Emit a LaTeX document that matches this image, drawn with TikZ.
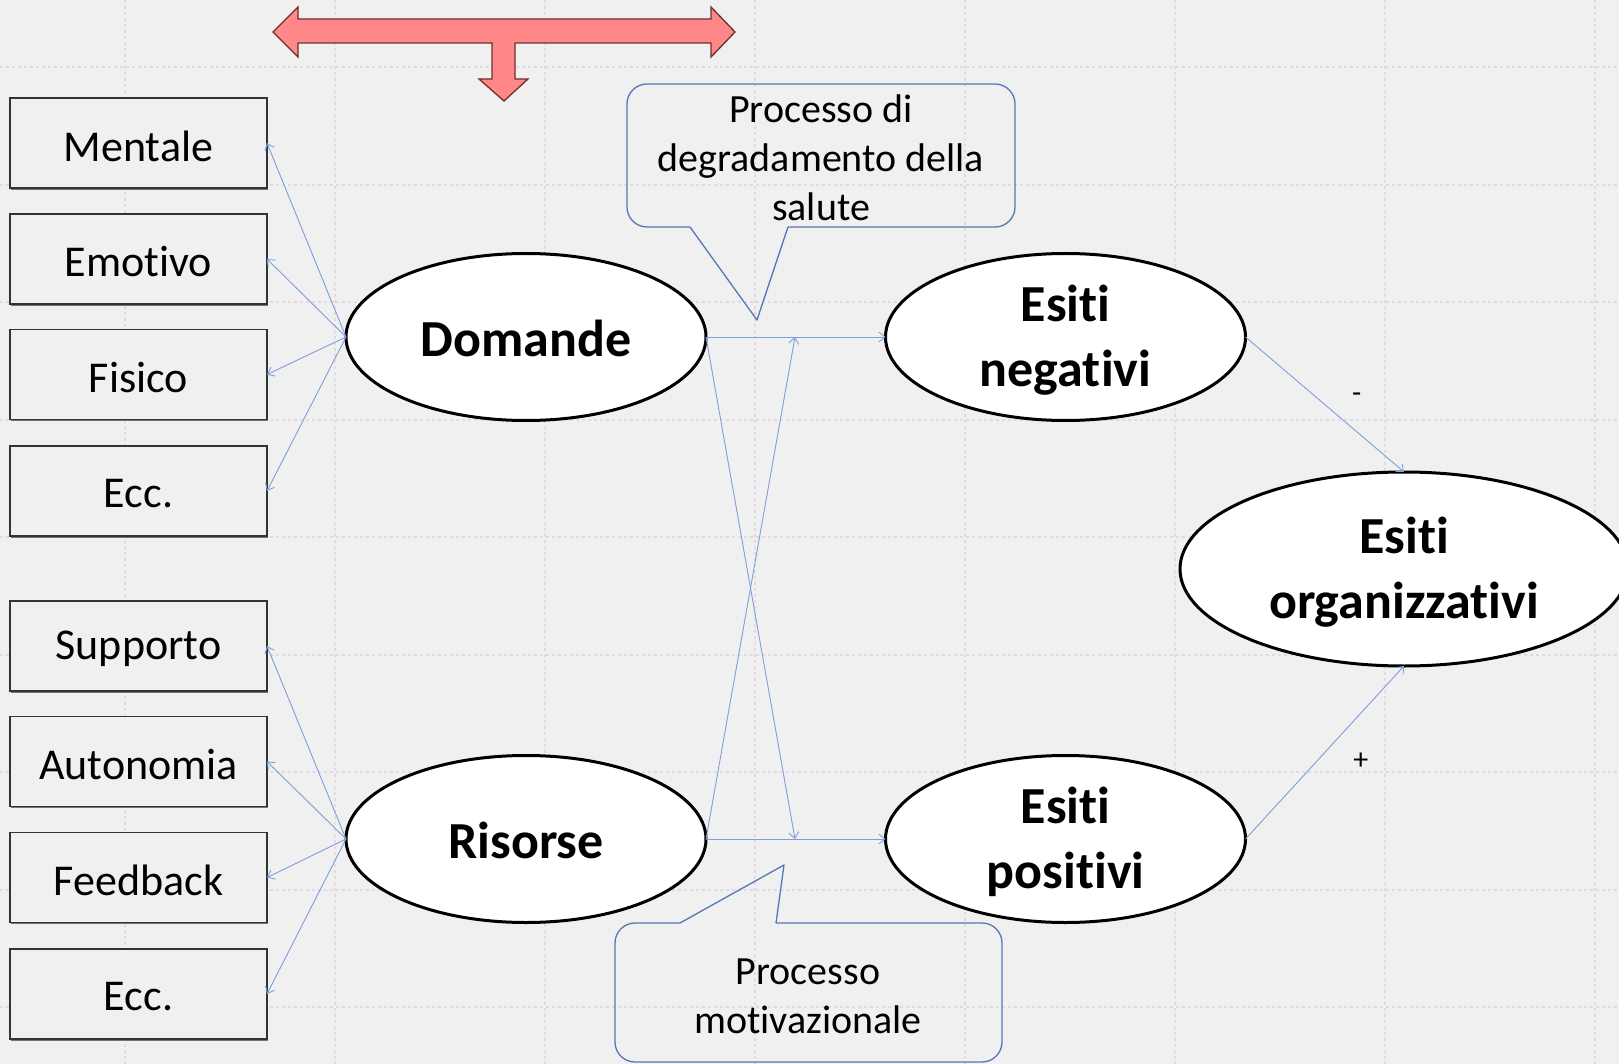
\documentclass[tikz,border=0pt]{standalone}
\usepackage{fontspec}
\setmainfont{Carlito}[Ligatures={NoCommon,NoRare}]
\usetikzlibrary{shapes.geometric,arrows.meta,shadows}
\definecolor{bgc}{HTML}{F0F0F0}
\definecolor{gridc}{HTML}{E2D9E2}
\definecolor{conn}{HTML}{7E9EDC}
\definecolor{callc}{HTML}{5577B5}
\definecolor{arrfill}{HTML}{FF8787}
\definecolor{arrdraw}{HTML}{6E2E2E}
\tikzset{
  boxnode/.style={draw=black!80, fill=bgc, line width=1.2pt, minimum width=257pt, minimum height=90pt,
    inner sep=0pt, outer sep=0pt, font=\fontsize{44}{50}\selectfont,
    general shadow={fill=black!55, shadow xshift=1pt, shadow yshift=-1.8pt}},
  boxtext/.style={inner sep=0pt, font=\fontsize{44}{50}\selectfont},
  ell/.style={ellipse, draw=black, line width=3pt, fill=white, minimum width=360pt,
    minimum height=167pt, inner sep=0pt, outer sep=0pt},
  elltext/.style={align=center, inner sep=0pt, font=\fontsize{52}{65}\selectfont\bfseries},
  conline/.style={draw=conn, line width=0.9pt},
  conarrow/.style={conline, -{Straight Barb[length=6pt,width=10pt]}},
  callout/.style={draw=callc, line width=1.3pt},
  calltext/.style={align=center, inner sep=0pt, font=\fontsize{40}{49}\selectfont},
  gridline/.style={draw=gridc, line width=2.8pt, dash pattern=on 3pt off 3pt}
}
\begin{document}
\begin{tikzpicture}[x=1pt,y=-1pt]
% background
\fill[bgc] (0,0) rectangle (1619,1064);
\useasboundingbox (0,0) rectangle (1619,1064);
% grid
\foreach \gx in {125,335,545,755,965,1175,1385,1595}
  \draw[gridline] (\gx,0) -- (\gx,1064);
\foreach \gy in {67,185,302,420,537,655,772,890,1007}
  \draw[gridline] (0,\gy) -- (1619,\gy);

% top block arrow
\filldraw[fill=arrfill, draw=arrdraw, line width=1.3pt, line join=miter]
  (273,32) -- (298,7) -- (298,19) -- (711,19) -- (711,7) -- (735,32) -- (711,57) -- (711,43)
  -- (515,43) -- (515,79) -- (528,79) -- (504,101) -- (479,79) -- (492,79) -- (492,43)
  -- (298,43) -- (298,57) -- cycle;

% boxes
\node[boxnode] (b1) at (138.5,143) {};
\node[boxnode] (b2) at (138.5,259) {};
\node[boxnode] (b3) at (138.5,374.5) {};
\node[boxnode] (b4) at (138.5,491) {};
\node[boxnode] (b5) at (138.5,646) {};
\node[boxnode] (b6) at (138.5,761.5) {};
\node[boxnode] (b7) at (138.5,877.5) {};
\node[boxnode] (b8) at (138.5,994) {};
\node[boxtext] (l1) at ([yshift=-3pt]b1.center) {Mentale};
\node[boxtext] (l2) at ([yshift=-3pt]b2.center) {Emotivo};
\node[boxtext] (l3) at ([yshift=-3pt]b3.center) {Fisico};
\node[boxtext] (l4) at ([yshift=-3pt]b4.center) {Ecc.};
\node[boxtext] (l5) at ([yshift=-3pt]b5.center) {Supporto};
\node[boxtext] (l6) at ([yshift=-3pt]b6.center) {Autonomia};
\node[boxtext] (l7) at ([yshift=-3pt]b7.center) {Feedback};
\node[boxtext] (l8) at ([yshift=-3pt]b8.center) {Ecc.};

% ellipses
\node[ell] (dom) at (526,337) {};
\node[ell] (ris) at (526,839) {};
\node[ell] (neg) at (1065.5,337) {};
\node[ell] (pos) at (1065.5,839) {};
\node[ell, minimum width=448pt, minimum height=194pt] (org) at (1404,569) {};
\node[elltext] (dt) at ([yshift=-1pt]dom.center) {Domande};
\node[elltext] (rt) at ([yshift=-1pt]ris.center) {Risorse};
\node[elltext] (nt) at ([yshift=-3pt]neg.center) {Esiti\\negativi};
\node[elltext] (pt) at ([yshift=-3pt]pos.center) {Esiti\\positivi};
\node[elltext] (ot) at ([yshift=-3pt]org.center) {Esiti\\organizzativi};

% callouts
\draw[callout, rounded corners=20pt] (690,227) -- (627,227) -- (627,84) -- (1015,84) -- (1015,227) -- (788,227);
\draw[callout, line join=round] (690,227) -- (757,320) -- (788,227);
\node[calltext] (t1) at (821,158) {Processo di\\degradamento della\\salute};

\draw[callout, rounded corners=20pt] (680,923) -- (615,923) -- (615,1062) -- (1002,1062) -- (1002,923) -- (776,923);
\draw[callout, line join=round] (680,923) -- (784,865) -- (776,923);
\node[calltext] (t2) at (808,996) {Processo\\motivazionale};

% connectors to boxes
\foreach \b in {b1,b2,b3,b4} \draw[conarrow] (dom.west) -- (\b.east);
\foreach \b in {b5,b6,b7,b8} \draw[conarrow] (ris.west) -- (\b.east);

% middle connectors
\coordinate (cu) at (795,337);
\coordinate (cl) at (795,839);
\draw[conarrow] (dom.east) -- (neg.west);
\draw[conarrow] (ris.east) -- (pos.west);
\draw[conarrow] (dom.east) -- (cl);
\draw[conarrow] (ris.east) -- (cu);

% right connectors
\draw[conarrow] (neg.east) -- node[pos=0.5, xshift=32pt, yshift=7pt, inner sep=0pt, font=\fontsize{30}{30}\selectfont] (lm) {-} (org.north);
\draw[conarrow] (pos.east) -- node[pos=0.5, xshift=36pt, yshift=-9pt, inner sep=0pt, font=\fontsize{30}{30}\selectfont] (lp) {+} (org.south);
\end{tikzpicture}
\end{document}
